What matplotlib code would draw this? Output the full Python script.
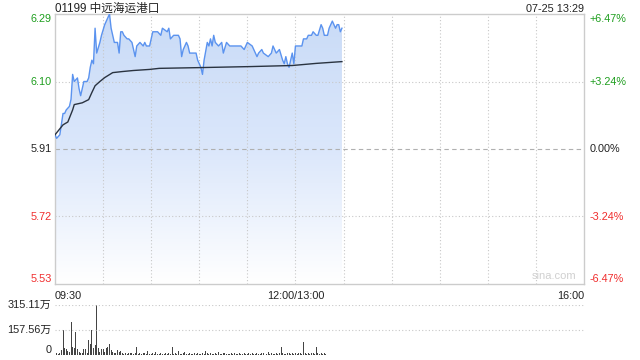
import numpy as np
import matplotlib
matplotlib.use('Agg')
import matplotlib.pyplot as plt
from matplotlib.colors import LinearSegmentedColormap

plt.rcParams['font.family'] = ['Liberation Sans', 'Noto Sans CJK SC', 'DejaVu Sans']

# --- data (minutes since 09:30, lunch break removed) ---
price_min = [0, 1, 3, 5, 6, 7, 9, 10, 11, 12, 14, 15, 16, 17, 18, 20, 21, 22, 23, 24,
             25, 26, 28, 29, 31, 32, 33, 34, 35, 36, 37, 39, 40, 41, 42, 43, 45, 46, 48, 50,
             51, 53, 55, 56, 57, 59, 61, 62, 64, 66, 67, 70, 71, 72, 74, 77, 78, 79, 80, 82,
             83, 84, 85, 88, 89, 91, 92, 93, 95, 96, 97, 98, 99, 100, 102, 104, 105, 107, 109, 116,
             118, 120, 123, 125, 126, 127, 129, 130, 133, 135, 136, 137, 138, 140, 142, 143, 144, 145, 146, 147,
             148, 149, 150, 152, 154, 155, 157, 158, 160, 161, 163, 164, 166, 167, 168, 170, 171, 173, 174, 175,
             176, 177, 178, 179]
price = [5.95, 5.94, 5.95, 6.01, 6.01, 6.02, 6.03, 6.05, 6.12, 6.10, 6.11, 6.08, 6.06, 6.08, 6.10, 6.10, 6.11, 6.14, 6.16, 6.15,
         6.25, 6.18, 6.21, 6.23, 6.26, 6.27, 6.28, 6.29, 6.25, 6.23, 6.21, 6.21, 6.18, 6.24, 6.24, 6.23, 6.22, 6.22, 6.21, 6.17,
         6.20, 6.21, 6.20, 6.21, 6.20, 6.20, 6.24, 6.24, 6.24, 6.23, 6.25, 6.24, 6.25, 6.22, 6.23, 6.23, 6.22, 6.17, 6.19, 6.21,
         6.20, 6.18, 6.18, 6.18, 6.16, 6.14, 6.12, 6.16, 6.21, 6.20, 6.22, 6.20, 6.23, 6.21, 6.20, 6.21, 6.18, 6.21, 6.20, 6.20,
         6.19, 6.21, 6.20, 6.18, 6.17, 6.18, 6.19, 6.18, 6.17, 6.18, 6.20, 6.19, 6.18, 6.19, 6.16, 6.15, 6.17, 6.15, 6.14, 6.16,
         6.18, 6.15, 6.20, 6.20, 6.20, 6.22, 6.22, 6.23, 6.23, 6.24, 6.23, 6.23, 6.26, 6.25, 6.23, 6.23, 6.25, 6.27, 6.26, 6.25,
         6.26, 6.26, 6.24, 6.25]

avg_min = [0, 5, 8, 11, 12, 17, 21, 23, 25, 28, 31, 36, 42, 49, 59, 65, 89, 122, 148, 163, 179]
avg_price = [5.95, 5.978, 5.986, 6.02, 6.035, 6.04, 6.049, 6.069, 6.088, 6.10, 6.111, 6.125, 6.128, 6.131,
             6.134, 6.137, 6.139, 6.142, 6.145, 6.151, 6.156]

# volume per minute, in 万 shares
volume = [31, 11, 8, 10, 30, 157, 46, 40, 25, 17, 210, 52, 42, 147, 36, 17, 10, 12, 36, 36,
          14, 95, 67, 157, 42, 63, 315, 46, 17, 38, 38, 20, 42, 52, 67, 31, 17, 12, 10, 31,
          20, 25, 12, 9, 14, 8, 11, 10, 13, 8, 12, 50, 9, 11, 7, 10, 12, 8, 25, 9,
          6, 10, 8, 17, 7, 9, 11, 6, 8, 10, 7, 12, 9, 48, 8, 11, 7, 25, 9, 6,
          10, 17, 8, 7, 12, 9, 6, 10, 8, 11, 7, 9, 13, 8, 25, 10, 7, 12, 9, 6,
          11, 8, 17, 9, 7, 10, 12, 8, 6, 9, 11, 7, 10, 8, 9, 12, 7, 8, 11, 6,
          9, 10, 8, 13, 7, 9, 11, 8, 6, 10, 12, 9, 7, 17, 8, 10, 9, 6, 11, 8,
          10, 50, 12, 9, 8, 14, 11, 7, 10, 9, 13, 8, 10, 11, 9, 80, 12, 8, 10, 9,
          11, 13, 7, 50, 12, 9, 10, 8, 11, 9]

y_ticks = [6.29, 6.10, 5.91, 5.72, 5.53]
pct_labels = ['+6.47%', '+3.24%', '0.00%', '-3.24%', '-6.47%']
x_labels = ['09:30', '12:00/13:00', '16:00']
title = '01199 中远海运港口'
stamp = '07-25 13:29'
vol_labels = ['315.11万', '157.56万', '0']

GREEN = '#1e9e1e'
RED = '#f02c2c'
DARK = '#222222'
GRID = '#c8c8c8'
FS = 7.8

fig = plt.figure(figsize=(6.4, 3.6), dpi=100)
ax = fig.add_axes([55/640, 1-284/360, 529/640, 270/360])
axv = fig.add_axes([55/640, 1-355/360, 529/640, 50/360])

ymin, ymax = 5.53, 6.29
ax.set_xlim(0, 330)
ax.set_ylim(ymin, ymax)

# gradient fill under price
poly = ax.fill_between(price_min, price, ymin, color='none')
cmap = LinearSegmentedColormap.from_list('g', ['#ffffff', '#dbe7fb', '#c9dbf7'])
grad = np.linspace(0, 1, 256).reshape(-1, 1)
im = ax.imshow(grad, cmap=cmap, aspect='auto', origin='lower',
               extent=[0, 330, ymin, ymax], zorder=1)
im.set_clip_path(poly.get_paths()[0], transform=ax.transData)

ax.plot(price_min, price, color='#5b93ef', lw=1.0, zorder=3)
ax.plot(avg_min, avg_price, color='#2a3340', lw=1.0, zorder=3)

# grid
for xv in range(30, 330, 30):
    ax.axvline(xv, color=GRID, lw=0.8, ls=(0, (1, 2)), zorder=2)
for yv in y_ticks[1:-1]:
    if abs(yv - 5.91) < 1e-6:
        ax.axhline(yv, color='#b0b0b0', lw=0.8, ls=(0, (4, 3)), zorder=2)
    else:
        ax.axhline(yv, color=GRID, lw=0.8, ls=(0, (1, 2)), zorder=2)

ax.set_xticks([])
ax.set_yticks([])
for s in ax.spines.values():
    s.set_color('#cccccc')
    s.set_linewidth(1.0)

# price / percent labels
colors = [GREEN, GREEN, DARK, RED, RED]
vas = ['top', 'center', 'center', 'center', 'bottom']
for yv, pl, c, va in zip(y_ticks, pct_labels, colors, vas):
    ax.text(-0.006, yv, f'{yv:.2f}', transform=ax.get_yaxis_transform(),
            ha='right', va=va, color=c, fontsize=FS)
    ax.text(1.011, yv, pl, transform=ax.get_yaxis_transform(),
            ha='left', va=va, color=c, fontsize=FS)

fig.text(55/640, 1-11.5/360, title, ha='left', va='baseline',
         fontsize=8.4, color=DARK)
fig.text(584/640, 1-11.5/360, stamp, ha='right', va='baseline',
         fontsize=FS, color=DARK)
ax.text(0.985, 0.01, 'sina.com', transform=ax.transAxes, ha='right', va='bottom',
        fontsize=8, color='#d0d0d0')

# time labels
for xv, lab, ha in zip([0, 150, 330], x_labels, ['left', 'center', 'right']):
    ax.text(xv, -0.025, lab, transform=ax.get_xaxis_transform(), ha=ha, va='top',
            fontsize=FS, color=DARK)

# volume panel
vmax = 315.11
axv.bar(range(len(volume)), volume, width=0.62, color='#444444', align='center')
axv.set_xlim(0, 330)
axv.set_ylim(0, vmax)
axv.axhline(vmax, color=GRID, lw=0.8, ls=(0, (1, 2)))
axv.axhline(vmax / 2, color=GRID, lw=0.8, ls=(0, (1, 2)))
axv.set_xticks([])
axv.set_yticks([])
for s in axv.spines.values():
    s.set_visible(False)
for yv, lab, va in zip([vmax, vmax / 2, 0], vol_labels, ['center', 'center', 'bottom']):
    axv.text(-0.006, yv, lab, transform=axv.get_yaxis_transform(), ha='right', va=va,
             fontsize=FS, color=DARK)

fig.savefig('out.png', dpi=100)
